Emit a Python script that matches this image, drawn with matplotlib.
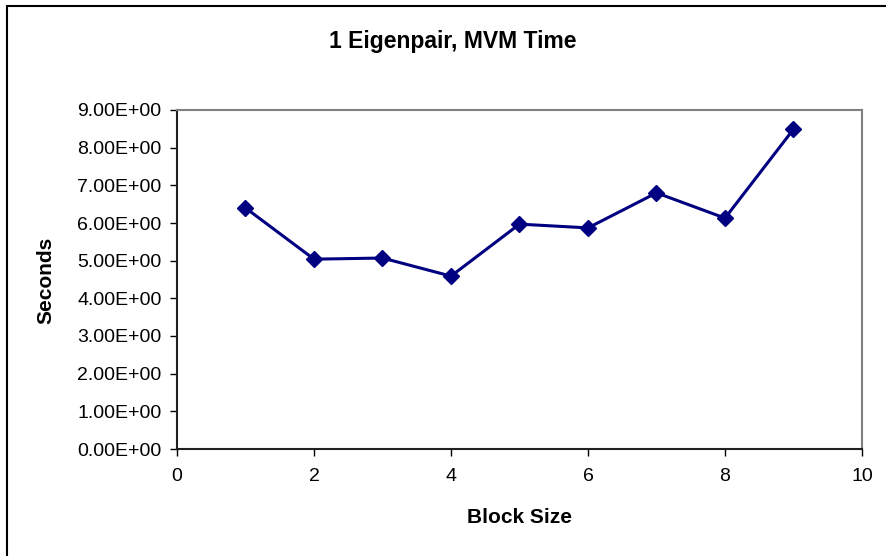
import numpy as np
import matplotlib
matplotlib.use('Agg')
import matplotlib.pyplot as plt
from matplotlib.patches import Rectangle

plt.rcParams['font.family'] = ['Liberation Sans', 'DejaVu Sans']

# timings per block size
block_size = [1, 2, 3, 4, 5, 6, 7, 8, 9]
seconds = [6.40, 5.04, 5.07, 4.59, 5.97, 5.87, 6.80, 6.13, 8.49]
y_ticks = np.arange(0, 10, 1)
x_ticks = np.arange(0, 11, 2)

W, H = 887, 556
fig = plt.figure(figsize=(W / 100, H / 100), dpi=100)
ax = fig.add_axes([177 / W, 1 - 449 / H, 685 / W, 339 / H])

ax.plot(block_size, seconds, color='#000080', lw=2.2, marker='D', markersize=8,
        markerfacecolor='#000080', markeredgecolor='#000080')

ax.set_xlim(0, 10)
ax.set_ylim(0, 9)
ax.set_xticks(x_ticks)
ax.set_yticks(y_ticks)
ax.set_yticklabels(['%.2fE+00' % v for v in y_ticks])
ax.tick_params(labelsize=14, length=5, width=1, color='black')
ax.tick_params(axis='y', pad=6)
ax.tick_params(axis='x', pad=9)

for s in ['top', 'right']:
    ax.spines[s].set_color('#808080')
    ax.spines[s].set_linewidth(1.5)
for s in ['left', 'bottom']:
    ax.spines[s].set_color('#202020')
    ax.spines[s].set_linewidth(1.5)

fig.text(453 / W, 1 - 48 / H, '1 Eigenpair, MVM Time', fontsize=16.5,
         fontweight='bold', ha='center', va='baseline')
fig.text(520 / W, 1 - 523 / H, 'Block Size', fontsize=15, fontweight='bold',
         ha='center', va='baseline')
fig.text(46 / W, 1 - 280 / H, 'Seconds', fontsize=15, fontweight='bold',
         ha='center', va='center', rotation=90)

# outer chart frame (runs off the right and bottom edges)
fig.patches.append(Rectangle((7 / W, -0.1), 1.2, 1.1 - 6 / H, transform=fig.transFigure,
                             fill=False, edgecolor='black', lw=1.5))

fig.savefig('out.png', dpi=100)
